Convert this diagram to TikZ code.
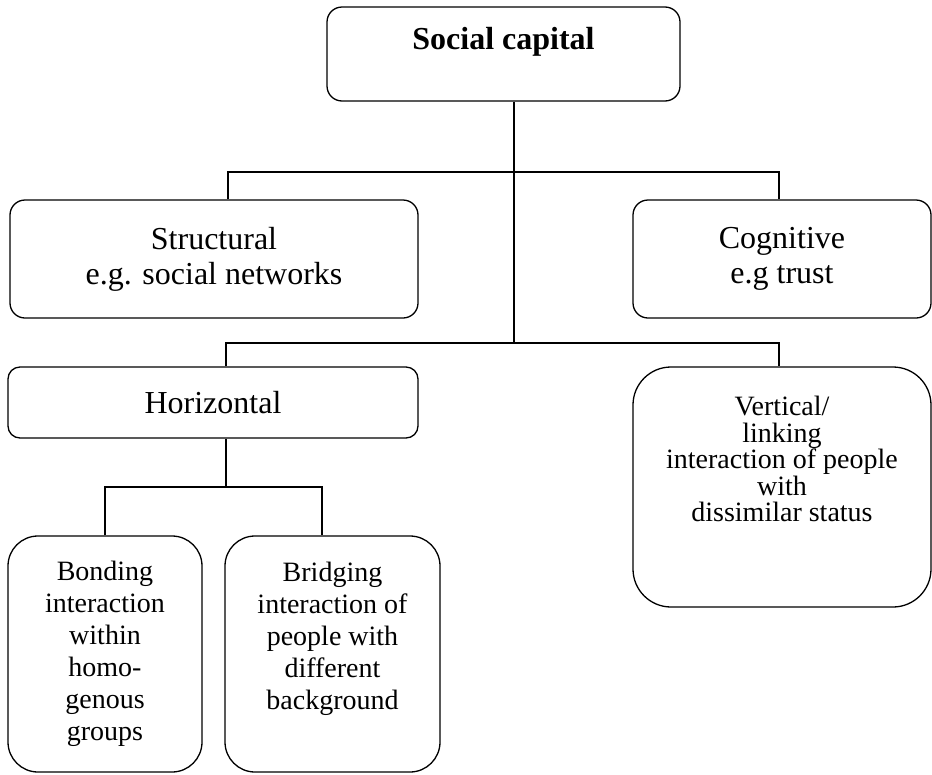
\documentclass[tikz,border=0pt]{standalone}
\usepackage{fontspec}
\setmainfont{Liberation Serif}
\usetikzlibrary{positioning}

\begin{document}
\begin{tikzpicture}[
    x=1pt, y=-1pt,
    box/.style={
        draw=black,
        line width=1.3pt,
        rounded corners=15pt,
        align=center,
        inner sep=0pt
    },
    big/.style={font=\fontsize{32}{35}\selectfont},
    small/.style={font=\fontsize{28}{32}\selectfont},
    tight/.style={font=\fontsize{28}{26.5}\selectfont},
    label/.style={anchor=north, inner sep=0pt, align=center},
    link/.style={draw=black, line width=1.3pt},
]
\useasboundingbox (0,0) rectangle (932,774);

% boxes
\node[box, minimum width=353pt, minimum height=94pt] (social) at (503.5,54) {};
\node[label, big] (social-label) at ([yshift=-21pt]social.north) {\textbf{Social capital}};

\node[box, big, minimum width=408pt, minimum height=118pt] (structural) at (214,259)
    {Structural\\e.g. social networks};
\node[box, big, minimum width=298pt, minimum height=118pt] (cognitive) at (782,259)
    {Cognitive\\e.g trust};

\node[box, big, rounded corners=12pt, minimum width=410pt, minimum height=71pt] (horizontal) at (213,402.5)
    {Horizontal};
\node[box, rounded corners=38pt, minimum width=298pt, minimum height=240pt] (vertical) at (782,487) {};
\node[label, tight] (vertical-label) at ([yshift=-30pt]vertical.north)
    {Vertical/\\linking\\interaction of people\\with\\dissimilar status};

\node[box, small, rounded corners=30pt, minimum width=194pt, minimum height=236pt] (bonding) at (105,654)
    {Bonding\\interaction\\within\\homo-\\genous\\groups};
\node[box, rounded corners=30pt, minimum width=215pt, minimum height=236pt] (bridging) at (332.5,654) {};
\node[label, small] (bridging-label) at ([yshift=-27pt]bridging.north)
    {Bridging\\interaction of\\people with\\different\\background};

% split points
\coordinate (top-split) at (514,172);
\coordinate (mid-split) at (514,343);
\coordinate (left-top) at (228,172);
\coordinate (right-top) at (779,172);
\coordinate (left-mid) at (226,343);
\coordinate (right-mid) at (779,343);
\coordinate (low-split) at (226,487);
\coordinate (low-left) at (105,487);
\coordinate (low-right) at (322,487);

% connectors
\draw[link] (social.south -| top-split) -- (mid-split);
\draw[link] (left-top |- structural.north) -- (left-top) -- (right-top) -- (right-top |- cognitive.north);
\draw[link] (left-mid |- horizontal.north) -- (left-mid) -- (right-mid) -- (right-mid |- vertical.north);
\draw[link] (horizontal.south -| low-split) -- (low-split);
\draw[link] (low-left |- bonding.north) -- (low-left) -- (low-right) -- (low-right |- bridging.north);

\end{tikzpicture}
\end{document}
